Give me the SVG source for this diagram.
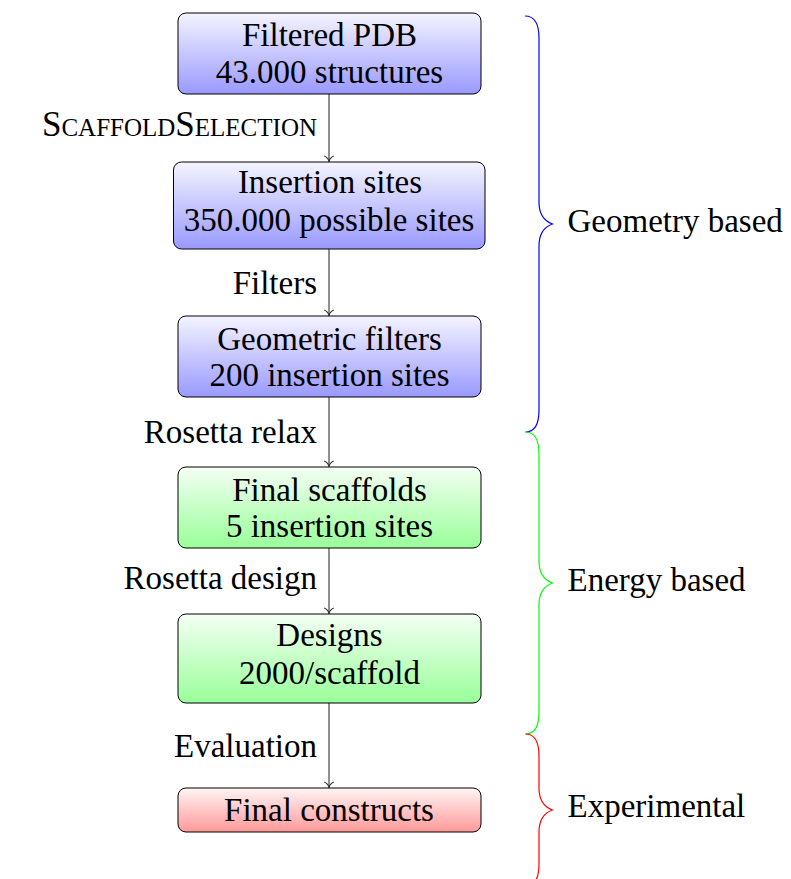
<svg xmlns="http://www.w3.org/2000/svg" width="791" height="879" viewBox="0 0 791 879">
<style>
.box{stroke:#000;stroke-width:1}
.conn{stroke:#333;stroke-width:1.1;fill:none}
.brace{fill:none;stroke-width:1.2}
</style>
<defs>
<linearGradient id="gBlue" x1="0" y1="0" x2="0" y2="1"><stop offset="0" stop-color="#f4f4ff"/><stop offset="1" stop-color="#9999ff"/></linearGradient>
<linearGradient id="gGreen" x1="0" y1="0" x2="0" y2="1"><stop offset="0" stop-color="#f4fff4"/><stop offset="1" stop-color="#99ff99"/></linearGradient>
<linearGradient id="gRed" x1="0" y1="0" x2="0" y2="1"><stop offset="0" stop-color="#fff4f4"/><stop offset="1" stop-color="#ff9999"/></linearGradient>
<marker id="to" viewBox="-7 -6 8 12" markerWidth="8" markerHeight="12" refX="0" refY="0" orient="auto" markerUnits="userSpaceOnUse">
<path d="M -5.5,-4.8 C -4.5,-2 -1.5,-0.4 0,0 C -1.5,0.4 -4.5,2 -5.5,4.8" fill="none" stroke="#333" stroke-width="1.1"/>
</marker>
</defs>

<g id="connectors">
<path class="conn" d="M329,94 V161.5" marker-end="url(#to)"/>
<path class="conn" d="M329,249 V315.5" marker-end="url(#to)"/>
<path class="conn" d="M329,397 V466.5" marker-end="url(#to)"/>
<path class="conn" d="M329,548 V613.5" marker-end="url(#to)"/>
<path class="conn" d="M329,703 V787.5" marker-end="url(#to)"/>
<text x="317" y="136" text-anchor="end" font-family="Liberation Serif" font-size="35" font-variant="small-caps">ScaffoldSelection</text>
<text x="317" y="293.5" text-anchor="end" font-family="Liberation Serif" font-size="33">Filters</text>
<text x="317" y="443.3" text-anchor="end" font-family="Liberation Serif" font-size="33">Rosetta relax</text>
<text x="317" y="589.3" text-anchor="end" font-family="Liberation Serif" font-size="33">Rosetta design</text>
<text x="317" y="757.3" text-anchor="end" font-family="Liberation Serif" font-size="33">Evaluation</text>
</g>

<g id="n1">
<rect class="box" x="178" y="13" width="303" height="81" rx="8" fill="url(#gBlue)"/>
<text x="329.5" y="46" text-anchor="middle" font-family="Liberation Serif" font-size="33">Filtered PDB</text>
<text x="329.5" y="82.5" text-anchor="middle" font-family="Liberation Serif" font-size="33">43.000 structures</text>
</g>
<g id="n2">
<rect class="box" x="173.5" y="162" width="311.5" height="87" rx="8" fill="url(#gBlue)"/>
<text x="330" y="193" text-anchor="middle" font-family="Liberation Serif" font-size="33">Insertion sites</text>
<text x="329" y="231" text-anchor="middle" font-family="Liberation Serif" font-size="33">350.000 possible sites</text>
</g>
<g id="n3">
<rect class="box" x="178" y="316" width="303" height="81" rx="8" fill="url(#gBlue)"/>
<text x="329.5" y="349.5" text-anchor="middle" font-family="Liberation Serif" font-size="33">Geometric filters</text>
<text x="329.5" y="386" text-anchor="middle" font-family="Liberation Serif" font-size="33">200 insertion sites</text>
</g>
<g id="n4">
<rect class="box" x="178" y="467" width="303" height="81" rx="8" fill="url(#gGreen)"/>
<text x="329.5" y="500.5" text-anchor="middle" font-family="Liberation Serif" font-size="33">Final scaffolds</text>
<text x="329.5" y="537" text-anchor="middle" font-family="Liberation Serif" font-size="33">5 insertion sites</text>
</g>
<g id="n5">
<rect class="box" x="178" y="614" width="303" height="89" rx="8" fill="url(#gGreen)"/>
<text x="329.5" y="646" text-anchor="middle" font-family="Liberation Serif" font-size="33">Designs</text>
<text x="329.5" y="684" text-anchor="middle" font-family="Liberation Serif" font-size="33">2000/scaffold</text>
</g>
<g id="n6">
<rect class="box" x="178" y="788" width="303" height="44" rx="8" fill="url(#gRed)"/>
<text x="329" y="821" text-anchor="middle" font-family="Liberation Serif" font-size="33">Final constructs</text>
</g>

<g id="brace-geometry">
<path class="brace" stroke="#0000ff" d="M525,16 C534,16 539,22 539,38 L539,202 C539,214 544,221 552.5,224 C544,227 539,234 539,246 L539,410 C539,426 534,432 525.5,432"/>
<text x="567.5" y="231.5" font-family="Liberation Serif" font-size="33">Geometry based</text>
</g>
<g id="brace-energy">
<path class="brace" stroke="#00ff00" d="M525.5,432 C534,432 539,438 539,454 L539,561 C539,573 544,580 552.5,583 C544,586 539,593 539,605 L539,712 C539,728 534,734 525.5,734"/>
<text x="567.5" y="590.5" font-family="Liberation Serif" font-size="33">Energy based</text>
</g>
<g id="brace-experimental">
<path class="brace" stroke="#ff0000" d="M525.5,734 C534,734 539,740 539,756 L539,788 C539,800 544,807 552.5,810 C544,813 539,820 539,832 L539,864 C539,880 534,886 525.5,886"/>
<text x="567.5" y="817" font-family="Liberation Serif" font-size="33">Experimental</text>
</g>
</svg>
